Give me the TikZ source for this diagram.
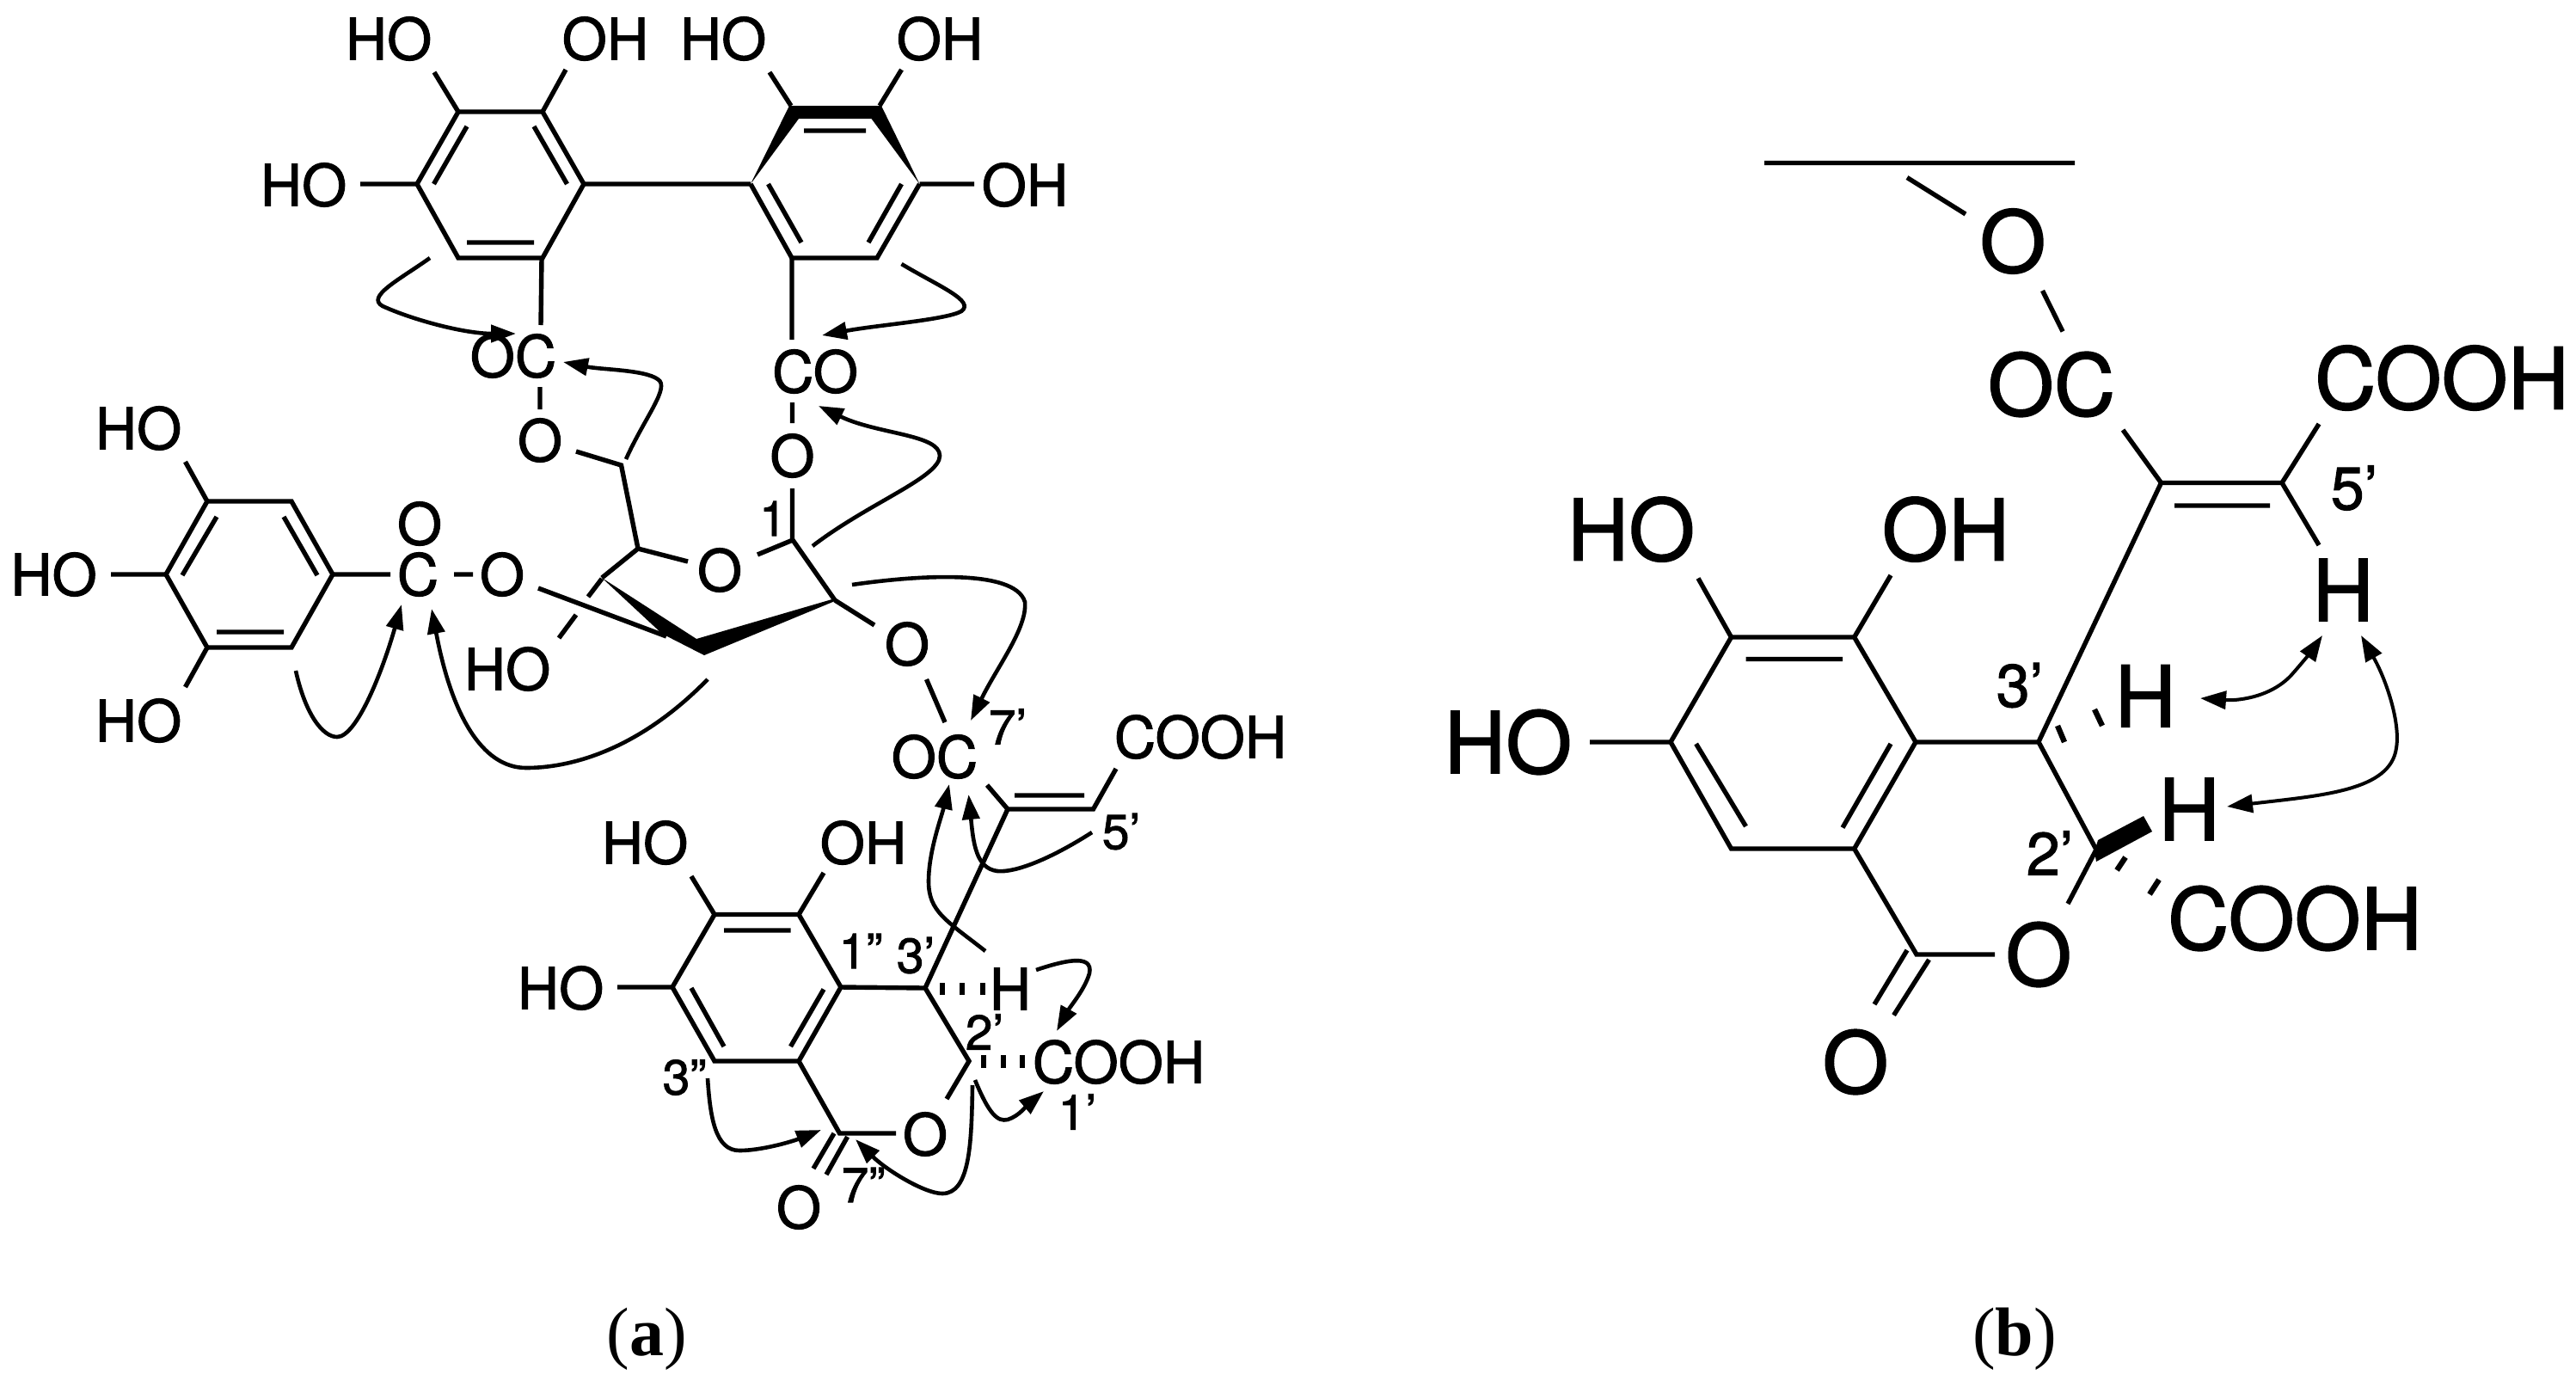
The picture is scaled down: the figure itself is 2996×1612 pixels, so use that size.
\documentclass[tikz,border=0pt]{standalone}
\usepackage{fontspec}
\setmainfont{TeX Gyre Heros}[FakeBold=1.5]
\newfontfamily\capfont{Liberation Serif}
\usetikzlibrary{arrows.meta}
\tikzset{
  atom/.style={inner sep=0pt,font=\fontsize{33.5}{34}\selectfont},
  batom/.style={inner sep=0pt,font=\fontsize{49.5}{50}\selectfont},
  lbl/.style={inner sep=0pt,font=\fontsize{28.5}{29}\selectfont},
  blbl/.style={inner sep=0pt,font=\fontsize{35}{36}\selectfont},
  captext/.style={inner sep=0pt,font=\capfont\fontsize{40}{41}\selectfont},
  bond/.style={line width=2.7pt,line cap=butt,line join=miter},
  hashb/.style={line width=3.2pt,line cap=butt},
  noe/.style={line width=2.3pt,-{Triangle[length=14.5pt,width=10pt]}},
  bnoe/.style={line width=2pt,{Triangle[length=15pt,width=10.5pt]}-{Triangle[length=15pt,width=10.5pt]}},
}
\begin{document}
\begin{tikzpicture}[x=0.5pt,y=-0.5pt]
\useasboundingbox (0,0) rectangle (2996,1612);
% ---- panel a: hexahydroxydiphenoyl
\node[atom] (ho1) at (452,45) {HO};
\node[atom] (oh1) at (704,45) {OH};
\node[atom] (ho2) at (841,45) {HO};
\node[atom] (oh2) at (1093,45) {OH};
\node[atom] (ho3) at (353,215) {HO};
\node[atom] (oh3) at (1192,215) {OH};
\node[atom] (oc1) at (597,414) {OC};
\node[atom] (co1) at (948,432) {CO};
\node[atom] (o1) at (628,512) {O};
\node[atom] (o2) at (921.5,530) {O};
\draw[bond] (533,130) -- (631,130) -- (679,214) -- (631,300) -- (533,300) -- (485,214) -- cycle;
\draw[bond] (543,147) -- (504.5,214) (621,147) -- (659.5,214) (543,282) -- (621,282);
\draw[bond] (505,84) -- (533,130) (658,81) -- (631,130) (419,214) -- (485,214) (679,214) -- (873,214);
\draw[bond] (873,214) -- (921,300) -- (1020,300) -- (1069.5,214);
\fill (873,214) -- (918,123) -- (1025,123) -- (1069.5,214) -- (1013.5,138) -- (929,138) -- cycle;
\draw[bond] (935,152) -- (1007,152) (893.5,214) -- (932,282) (1048.5,214) -- (1010,282);
\draw[bond] (895,84) -- (920,123) (1048.5,81) -- (1023,123) (1069.5,214) -- (1133,214);
\draw[bond] (630,300) -- (629,378) (921,300) -- (921,395) (628,450) -- (628,476) (921.5,468) -- (921.5,492);
% ---- gallate
\node[atom] (ho4) at (161,498) {HO};
\node[atom] (ho5) at (62.5,668) {HO};
\node[atom] (ho6) at (161,838) {HO};
\node[atom] (o3) at (488,609) {O};
\node[atom] (c3) at (486,668) {C};
\node[atom] (o4) at (584,668) {O};
\draw[bond] (241,583) -- (339,583) -- (387,668) -- (339,753) -- (241,753) -- (193,668) -- cycle;
\draw[bond] (252,601) -- (212,669) (330,601) -- (369,669) (252,735) -- (330,735);
\draw[bond] (215.5,537) -- (241,583) (215.5,799) -- (241,753) (129,668) -- (193,668) (387,668) -- (454,668) (528,668) -- (550,668);
% ---- glucose
\node[atom] (o5) at (837,663) {O};
\node[atom] (o6) at (1055,749) {O};
\node[atom] (ho7) at (590,778) {HO};
\node[lbl] (n1) at (899,603) {1};
\draw[bond] (670,525) -- (722.5,541) -- (742,638) -- (800,653);
\draw[bond] (742,638) -- (700,672);
\draw[bond] (881,645) -- (922,628) -- (971,698) (921.5,568) -- (921.5,628) (971,698) -- (1017,727);
\fill (700,672) -- (810,743) -- (971,696) -- (971,699) -- (819,762) -- (770,737) -- cycle;
\draw[bond] (626,684) -- (775,740);
\draw[bond] (700,673) -- (684,694) (670,715) -- (650,742);
% ---- lower part of a
\node[atom] (oc2) at (1087,880) {OC};
\node[lbl] (n7) at (1172,845) {7'};
\node[atom] (cooh1) at (1396,857) {COOH};
\node[lbl] (n5) at (1304,967) {5'};
\node[atom] (ho8) at (750,980) {HO};
\node[atom] (oh8) at (1004,980) {OH};
\node[atom] (ho9) at (652,1149) {HO};
\node[atom] (h3) at (1175,1150) {H};
\node[atom] (cooh2) at (1301,1235) {COOH};
\node[atom] (o7) at (1076,1319) {O};
\node[atom] (o8) at (929,1404) {O};
\node[lbl] (n11) at (1001,1106) {1''};
\node[lbl] (n3) at (1065,1111) {3'};
\node[lbl] (n2) at (1145,1200) {2'};
\node[lbl] (n33) at (796,1253) {3''};
\node[lbl] (n1p) at (1253,1293) {1'};
\node[lbl] (n77) at (1004,1378) {7''};
\draw[bond] (1077.5,790) -- (1099,840) (1148,913) -- (1172,941) -- (1271.5,941) -- (1298,894);
\draw[bond] (1180,925) -- (1261,925) (1172,941) -- (1076,1149);
\draw[bond] (831,1063.5) -- (929,1063.5) -- (978,1148) -- (929,1234) -- (831,1234) -- (782,1148) -- cycle;
\draw[bond] (842,1082) -- (919.5,1082) (804,1149) -- (842,1217) (958,1150.5) -- (919.5,1217);
\draw[bond] (804,1019) -- (831,1063.5) (958,1015) -- (929,1063.5) (718,1148) -- (782,1148);
\draw[bond] (978,1148) -- (1076,1149) -- (1127,1234) -- (1101,1278) (929,1234) -- (976.5,1318) -- (1042,1318);
\draw[bond] (970,1318) -- (946,1359) (985.6,1322) -- (961,1366);
\draw[hashb] (1096,1143) -- (1096,1157) (1119,1143) -- (1119,1157) (1143,1143) -- (1143,1157);
\draw[hashb] (1144,1227) -- (1144,1242) (1167,1227) -- (1167,1242) (1189,1227) -- (1189,1242);
% ---- arrows of a
\draw[noe] (500,300) .. controls (465,325) and (425,345) .. (445,356) .. controls (480,372) and (540,388) .. (600,388);
\draw[noe] (1048.5,307) .. controls (1090,332) and (1135,350) .. (1118,362) .. controls (1100,372) and (1020,378) .. (956,390);
\draw[noe] (728,534) .. controls (750,485) and (780,450) .. (765,441) .. controls (750,430) and (700,430) .. (655,421);
\draw[noe] (945,635) .. controls (1010,585) and (1093,555) .. (1093,530) .. controls (1093,505) and (1020,505) .. (952,472);
\draw[noe] (344,780) .. controls (355,830) and (375,857) .. (392,857) .. controls (415,857) and (445,780) .. (467,703);
\draw[noe] (823,790) .. controls (740,875) and (660,893) .. (612,893) .. controls (560,893) and (525,830) .. (502,708);
\draw[noe] (991,680) .. controls (1060,670) and (1180,660) .. (1192,700) .. controls (1195,730) and (1160,775) .. (1129,838);
\draw[noe] (1270,968) .. controls (1220,1000) and (1180,1015) .. (1160,1013) .. controls (1135,1010) and (1132,980) .. (1126.5,924);
\draw[noe] (1146,1106) .. controls (1100,1070) and (1080,1060) .. (1080,1025) .. controls (1080,990) and (1095,950) .. (1104,912);
\draw[noe] (1205,1128) .. controls (1235,1118) and (1272,1108) .. (1267,1132) .. controls (1262,1150) and (1245,1170) .. (1229,1199);
\draw[noe] (1134,1256) .. controls (1150,1295) and (1160,1305) .. (1172,1302) .. controls (1185,1298) and (1195,1285) .. (1214,1269);
\draw[noe] (1131,1262) .. controls (1130,1330) and (1128,1388) .. (1096,1388) .. controls (1075,1388) and (1030,1360) .. (995,1325);
\draw[noe] (823,1254) .. controls (826,1300) and (832,1338) .. (860,1338) .. controls (885,1338) and (920,1328) .. (955,1314);
\node[captext] (capa) at (752,1557) {(\textbf{a})};
% ---- panel b
\node[batom] (bo1) at (2341,280.5) {O};
\node[batom] (boc) at (2386,447) {OC};
\node[batom] (bcooh1) at (2840,439.5) {COOH};
\node[blbl] (b5) at (2738,567.5) {5'};
\node[batom] (bh5) at (2725,686) {H};
\node[batom] (bho1) at (1897,615.6) {HO};
\node[batom] (boh1) at (2263,615.6) {OH};
\node[batom] (bho2) at (1754,863) {HO};
\node[batom] (bh3) at (2495,809.4) {H};
\node[batom] (bh2) at (2546,941) {H};
\node[batom] (bcooh2) at (2669,1068) {COOH};
\node[batom] (bo2) at (2371,1110) {O};
\node[batom] (bo3) at (2158,1235) {O};
\node[blbl] (b3) at (2349,797) {3'};
\node[blbl] (b2) at (2384,992) {2'};
\node[captext] (capb) at (2343,1557) {(\textbf{b})};
\draw[bond] (2052,189.5) -- (2413,189.5) (2218,206.5) -- (2286,249) (2375.5,338) -- (2399,385.5);
\draw[bond] (2469,500) -- (2513.5,561.5) -- (2654,561.5) -- (2697,493) (2529,588) -- (2640,588) (2654,561.5) -- (2697,634);
\draw[bond] (2513.5,561.5) -- (2371,862.6);
\draw[bond] (2013.5,741) -- (2156.6,741) -- (2228,863) -- (2156.6,987) -- (2013.5,987) -- (1943,863) -- cycle;
\draw[bond] (2030.5,766.5) -- (2143,766.5) (1972.6,865) -- (2030.5,961) (2199,865) -- (2143,962.5);
\draw[bond] (1975,672.5) -- (2013.5,741) (2199,669) -- (2156.6,741) (1849,863) -- (1943,863);
\draw[bond] (2228,863) -- (2371,863) -- (2438,988) -- (2405,1051) (2320,1110) -- (2229,1110) -- (2156.6,987);
\draw[bond] (2218,1105) -- (2180,1168) (2243.5,1116) -- (2202.5,1180.6);
\fill (2440,977) -- (2493,949) -- (2503,967) -- (2438,1002) -- (2436,990) -- cycle;
\draw[hashb] (2393,844) -- (2401,863) (2436,825) -- (2445,844);
\draw[hashb] (2472,997) -- (2462,1012) (2511,1023) -- (2500,1040);
\draw[bnoe] (2559,812) .. controls (2600,815) and (2640,812) .. (2665,785) .. controls (2680,768) and (2690,755) .. (2701,739);
\draw[bnoe] (2746,739) .. controls (2775,790) and (2792,840) .. (2787,870) .. controls (2780,920) and (2700,925) .. (2590,938);
\end{tikzpicture}
\end{document}
